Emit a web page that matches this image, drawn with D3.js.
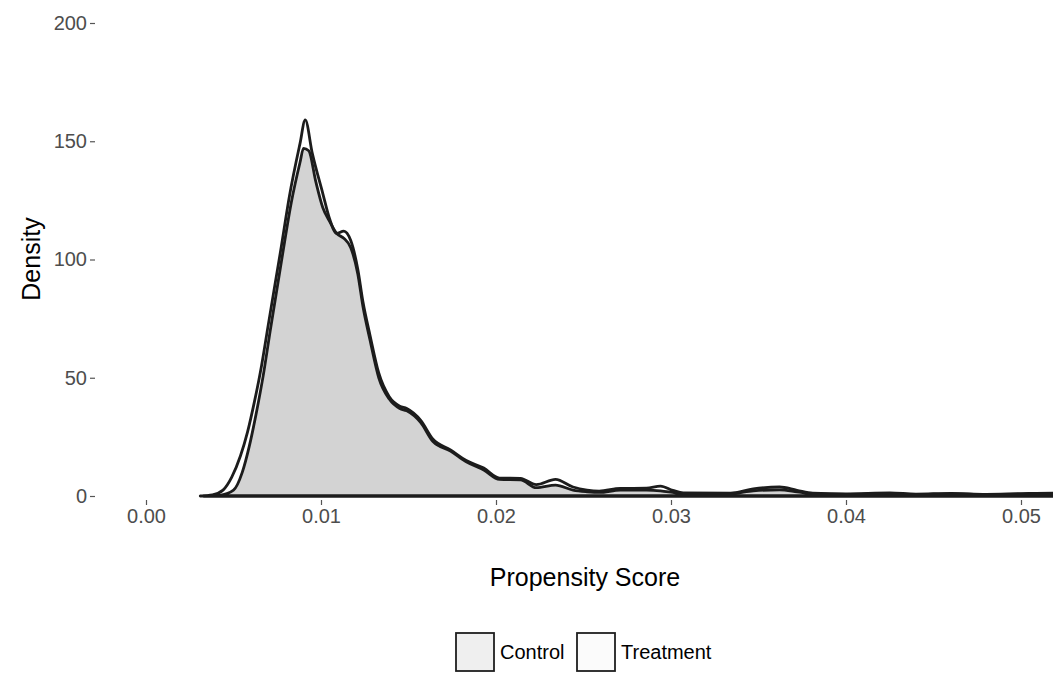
<!DOCTYPE html>
<html>
<head>
<meta charset="utf-8">
<script src="https://cdn.jsdelivr.net/npm/d3@7"></script>
<style>
  body { margin: 0; background: #fff; }
  svg { display: block; font-family: "Liberation Sans", Arial, Helvetica, sans-serif; }
</style>
</head>
<body>
<div class="chart-container"></div>
<script>
// Propensity score density, Control vs Treatment

var groups = ["Control", "Treatment"];
var xTicks = [0, 0.01, 0.02, 0.03, 0.04, 0.05];
var yTicks = [0, 50, 100, 150, 200];

// Control (filled grey)
var controlScore = [0.0033, 0.0042, 0.0050, 0.0055, 0.0059, 0.0063, 0.0067, 0.0071, 0.0078, 0.0083, 0.0088,
  0.0090, 0.0093, 0.0097, 0.0101, 0.0105, 0.0109, 0.0113, 0.0117, 0.0121, 0.0124,
  0.0128, 0.0133, 0.0139, 0.0145, 0.0149, 0.0157, 0.0164, 0.0174, 0.0183, 0.0193,
  0.0202, 0.0214, 0.0223, 0.0234, 0.0244, 0.0252, 0.0259, 0.0271, 0.0286, 0.0294,
  0.0301, 0.0307, 0.0334, 0.0347, 0.0362, 0.0372, 0.0381, 0.0400, 0.0425, 0.0440,
  0.0460, 0.0480, 0.0500, 0.0520, 0.0560, 0.0600];
var controlDensity = [0, 0.3, 2.5, 10, 21, 35, 51, 70, 102, 124, 141,
  147, 146, 133, 122, 116, 111, 109, 105, 94, 80,
  66, 50, 41, 37, 36, 31, 23, 19, 14.5, 11,
  7, 6.8, 3.5, 4.6, 2.5, 1.8, 1.5, 2.5, 2.5, 2.2,
  1.5, 0.9, 1.0, 2.2, 2.6, 1.8, 0.9, 0.7, 1.0, 0.6,
  0.9, 0.6, 0.8, 1.0, 0.6, 0];

// Treatment (outline only)
var treatmentScore = [0.0031, 0.0038, 0.0044, 0.0049, 0.0054, 0.0058, 0.0062, 0.0066, 0.0070, 0.0077, 0.0082,
  0.0088, 0.0091, 0.0095, 0.0101, 0.0105, 0.0109, 0.0113, 0.0117, 0.0121, 0.0124,
  0.0128, 0.0133, 0.0139, 0.0145, 0.0149, 0.0157, 0.0164, 0.0174, 0.0183, 0.0193,
  0.0202, 0.0214, 0.0223, 0.0234, 0.0244, 0.0252, 0.0259, 0.0271, 0.0286, 0.0294,
  0.0301, 0.0307, 0.0334, 0.0347, 0.0362, 0.0372, 0.0381, 0.0400, 0.0425, 0.0440,
  0.0460, 0.0480, 0.0500, 0.0520, 0.0560, 0.0600];
var treatmentDensity = [0, 0.5, 2.5, 8, 17, 27, 40, 55, 73, 104, 127,
  149, 159, 145, 128, 117, 111, 112, 108, 96, 82,
  68, 52, 42, 38, 37, 32, 24, 19.5, 15, 11.8,
  7.6, 7.4, 4.8, 7.0, 3.8, 2.5, 2.1, 3.2, 3.3, 4.2,
  2.4, 1.3, 1.2, 3.0, 3.8, 2.4, 1.2, 0.9, 1.3, 0.8,
  1.1, 0.7, 1.0, 1.2, 0.8, 0];

var width = 1053, height = 673;

var svg = d3.select(".chart-container")
  .append("svg")
  .attr("width", width)
  .attr("height", height);

svg.append("rect").attr("width", width).attr("height", height).attr("fill", "#fff");

var xScale = d3.scaleLinear().domain([0, 0.05]).range([146, 1021]),
  yScale = d3.scaleLinear().domain([0, 200]).range([496, 23]);

svg.append("clipPath").attr("id", "panel")
  .append("rect").attr("x", 95).attr("y", 0).attr("width", width - 95).attr("height", 520);

var area = d3.area()
  .x(function (d) { return xScale(d[0]); })
  .y0(yScale(0))
  .y1(function (d) { return yScale(d[1]); })
  .curve(d3.curveMonotoneX);

var controlData = d3.zip(controlScore, controlDensity),
  treatmentData = d3.zip(treatmentScore, treatmentDensity);

var plot = svg.append("g").attr("clip-path", "url(#panel)");

plot.append("path")
  .datum(controlData)
  .attr("d", area)
  .attr("fill", "#d3d3d3")
  .attr("stroke", "#1c1c1c")
  .attr("stroke-width", 2.8)
  .attr("stroke-linejoin", "round")
  .attr("stroke-linecap", "round");

plot.append("path")
  .datum(treatmentData)
  .attr("d", area)
  .attr("fill", "none")
  .attr("stroke", "#1c1c1c")
  .attr("stroke-width", 2.8)
  .attr("stroke-linejoin", "round")
  .attr("stroke-linecap", "round");

// axes (ggplot minimal look: no axis lines)
var yAxis = svg.append("g")
  .attr("transform", "translate(95,0)")
  .call(d3.axisLeft(yScale).tickValues(yTicks).tickSize(5).tickPadding(3));

var xAxis = svg.append("g")
  .attr("transform", "translate(0,500)")
  .call(d3.axisBottom(xScale).tickValues(xTicks).tickSize(5).tickPadding(4).tickFormat(d3.format(".2f")));

[yAxis, xAxis].forEach(function (ax) {
  ax.select(".domain").remove();
  ax.selectAll(".tick line").attr("stroke", "#555").attr("stroke-width", 1.2);
  ax.selectAll(".tick text").attr("fill", "#4d4d4d").attr("font-size", "20px");
});

svg.append("text")
  .attr("transform", "rotate(-90)")
  .attr("x", -259)
  .attr("y", 40)
  .attr("text-anchor", "middle")
  .attr("font-size", "25px")
  .attr("fill", "#000")
  .text("Density");

svg.append("text")
  .attr("x", 585)
  .attr("y", 586)
  .attr("text-anchor", "middle")
  .attr("font-size", "25px")
  .attr("fill", "#000")
  .text("Propensity Score");

// legend
var legendFill = ["#efefef", "#fbfbfb"];
var legendX = [456, 577];
var legend = svg.append("g");
groups.forEach(function (g, i) {
  legend.append("rect")
    .attr("x", legendX[i])
    .attr("y", 633)
    .attr("width", 38)
    .attr("height", 38)
    .attr("fill", legendFill[i])
    .attr("stroke", "#1e1e1e")
    .attr("stroke-width", 1.8);
  legend.append("text")
    .attr("x", legendX[i] + 44)
    .attr("y", 659)
    .attr("font-size", "20px")
    .attr("fill", "#000")
    .text(g);
});
</script>
</body>
</html>
